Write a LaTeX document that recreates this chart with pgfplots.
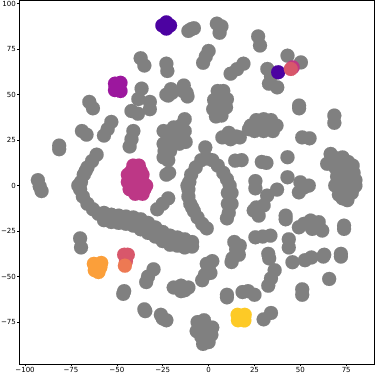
\documentclass[border=0pt]{standalone}
\usepackage{fontspec}
\setmainfont{DejaVu Sans}
\usepackage{pgfplots}
\pgfplotsset{compat=1.18}
\definecolor{mgray}{RGB}{128,128,128}
\definecolor{pdeep}{RGB}{76,2,161}
\definecolor{pviolet}{RGB}{156,23,158}
\definecolor{pmag}{RGB}{189,55,134}
\definecolor{psalmon}{RGB}{216,87,107}
\definecolor{pcoral}{RGB}{237,121,83}
\definecolor{porange}{RGB}{251,159,58}
\definecolor{pyellow}{RGB}{253,202,38}
\pgfplotsset{blob/.style={only marks, mark=*, mark size=7pt,
  mark options={fill=#1, draw=#1, line width=0.1pt}}}
\begin{document}
\begin{tikzpicture}
\begin{axis}[
  scale only axis, width=354pt, height=362pt,
  xmin=-103, xmax=90.5, ymin=-98, ymax=101.6,
  xtick={-100,-75,-50,-25,0,25,50,75},
  xticklabels={−100,−75,−50,−25,0,25,50,75},
  ytick={-75,-50,-25,0,25,50,75,100},
  yticklabels={−75,−50,−25,0,25,50,75,100},
  tick pos=left, tick align=outside, major tick length=2.5pt,
  tick label style={font=\fontsize{7}{8}\selectfont, inner sep=1pt},
  every tick/.style={black, line width=0.5pt},
  axis line style={line width=0.6pt},
]
% grey points
\addplot[blob=mgray] coordinates {
(-9.5,86)(-11,85)(-8,86.5)(4.5,89)(6,84)(7,87.5)(27,82)(28,77)
(0,74)(-1.5,71)(-3,67.5)(19,67)(15.5,64)(12,61.5)(-23,67)(-22.5,63)
(-37,70)(-35,66)(43,71.4)(50.3,67.7)(32,64.1)(34,60)(32.9,56)(37.4,54)
(49.3,44)(49.3,42.5)(68.5,38.5)(68.5,34.5)(-36.5,53.3)(-38.3,47.6)
(-32,46)(-32,42)(-42,41)(-38.5,39.5)(-41,30)(-42,25.5)(-43,21.5)
(-65,46)(-63,42.5)(-69,30)(-66.5,28)(-53,35)(-55,31)(-57,27.5)
(-81.4,22)(-81.4,20)(-93,3)(-92,-0.5)(-91,-3)
(-23,50)(-20.5,53)(-22,49.5)(-20,51)(-13.5,55)(-12,51)(-11.5,49)(-14,52)
(-13,36.5)(-15,33)(-19,32)(-24.5,30)(-20.5,30)(-16.5,30)(-13,30)
(-24.5,23)(-20.5,23)(-16,23)(-12.5,24)(-22,26.5)(-18,26.5)(-14,27)
(-24.5,15.5)(-22,14)(-24,19)(-21,19)
(5,52)(8,52)(3,47)(6.5,47)(10,47.5)(2.5,42)(6,42)(9.5,43)(4,38)(7,38.5)
(23,33)(26,36)(30,36.5)(34,36)(37,33)(35,30)(30,30)(25,30)(29,33)(33,33)(22,31)
(7.5,26.5)(11,29)(12,25.5)(17,26.5)(15,27)
(-1.8,21)(14.5,13.7)(18,14)(29,13)(31.5,12.5)(43,15.6)(43,4.6)
(-21.5,7)(-23,6)(-28,-13)(-25,-10)(-22,-7)(51,26.5)(55,26)
(66.5,17.4)(64.6,12)(70,15)(73,15.5)(76,13)(78.5,11)(69,10)(72,10)(75,8)(79,7)
(70,5)(73,4)(76,3)(80,3)(69,0)(72,-1)(75,-2)(79,-1)(71,-5)(75,-6)(78,-4)
(75.6,-8)(73,-7)(72,12)(80,0)
(25.5,2.5)(25.5,-1.5)(50,1.8)(54.6,0)(49.2,-3.7)(52,-1)(37.3,-2.2)(31.9,-5.5)
(24.6,-13.7)(30,-10.9)(27.3,-16.5)(26,-12)(42,-16.5)(42,-18.5)
(49.2,-22.9)(55.6,-19.2)(56.5,-23.8)(61.9,-24.7)(60,-20.1)(52,-21)
(73.8,-23.8)(73.8,-22)(25.5,-28.4)(29.5,-28)(33.7,-27.5)(43.7,-29.5)(43.7,-34)
(32.5,-37.5)(33,-40)(45.7,-42.1)(52.5,-41)(56,-39.5)(63,-38)(62.5,-39)
(72.1,-37.5)(72.1,-39)(36,-46.5)(34,-51)(32.5,-55)(65.7,-51.3)(51,-57)(51,-60)
(18.5,-58.5)(21.5,-58)(25,-60)(10,-61.4)(10,-60)(30,-73.5)(34,-70)
(2,-41.5)(0,-45)(-2,-49)(-3.5,-52)(1,-48)(-1,-43)
(14,-31)(15,-35)(13,-40)(17,-33)(12.5,-42)(16.5,-38)
(-19,-56)(-15,-55)(-11,-56)(-15,-58)(-13,-57.5)
(-30,-46)(-33,-50)(-34,-53)(-46.5,-59.5)(-46,-58)(-35,-68)(-34.5,-69)
(-26,-71)(-23,-74)(-25,-73)(-70,-29)(-69.5,-34)
(-6,-75)(-2.5,-74)(-5,-79)(-1,-79)(1.5,-82)(-4,-83)(0,-86)(-3,-87)(-6.5,-80)(2,-78)
(-4,14)(-7,10)(-9.5,6)(-10.5,2)(-11,-2)(-11,-6)(-10,-10)(-8,-14)(-6,-17.5)
(-3.5,-21)(-1,-23.5)(-11.5,0)(-9,-12)(-1,15)(2,14)
(5,11)(8,7)(10,3.5)(11.5,0)(10.5,-4)(12.5,-4)(10.5,-10)(12.5,-10)(11,-15)(10,-18)
(-61,17)(-63.5,13.5)(-66,10)(-68,6)(-69.5,2)(-70,-2)(-68.5,-6)(-66,-10)
(-63,-13)(-60,-15.5)(-71,0)(-67,8)
(-57,-15)(-57,-19)(-53,-16)(-53,-20)(-49,-16.5)(-49,-20.5)(-45,-17)(-45,-21)
(-41,-17.5)(-41,-22)(-37,-18.5)(-37,-24)(-33,-20.5)(-33,-26)(-29,-23)(-29,-28)
(-25,-25.5)(-25,-30.5)(-21,-27.5)(-21,-32.5)(-17,-28.5)(-17,-33)
(-13,-29.5)(-13,-34)(-9,-31)(-9,-33.5)
};
% coloured points
\addplot[blob=pmag] coordinates {
(-41,11)(-38,11)(-39.5,9)(-44,6)(-40,6)(-36,6)(-44,2)(-40,2)(-36,2)
(-43,-2)(-39,-2)(-35,-2)(-40,-4.5)(-36,-4.5)(-42,4)(-38,4)(-38,0)(-42,0)
(-34,0)(-37,8)(-42,8)(45.8,65)
};
\addplot[blob=pdeep] coordinates {
(-25.2,88)(-21,88)(-23,89.7)(-23,86.3)(37.9,62.3)
};
\addplot[blob=pviolet] coordinates {
(-51,56)(-48,56.5)(-51,52.5)(-48,52)(-49.5,54)
};
\addplot[blob=psalmon] coordinates {
(44.8,64.1)(-46,-38)(-44,-38)(-45,-41.5)
};
\addplot[blob=pcoral] coordinates {(-45.6,-44)};
\addplot[blob=porange] coordinates {
(-62.5,-43)(-58.5,-42.5)(-60,-47.5)(-62,-46.5)(-59,-45)
};
\addplot[blob=pyellow] coordinates {
(15.8,-71)(19.7,-71)(16,-74)(19.5,-74.1)
};
\end{axis}
\end{tikzpicture}
\end{document}
